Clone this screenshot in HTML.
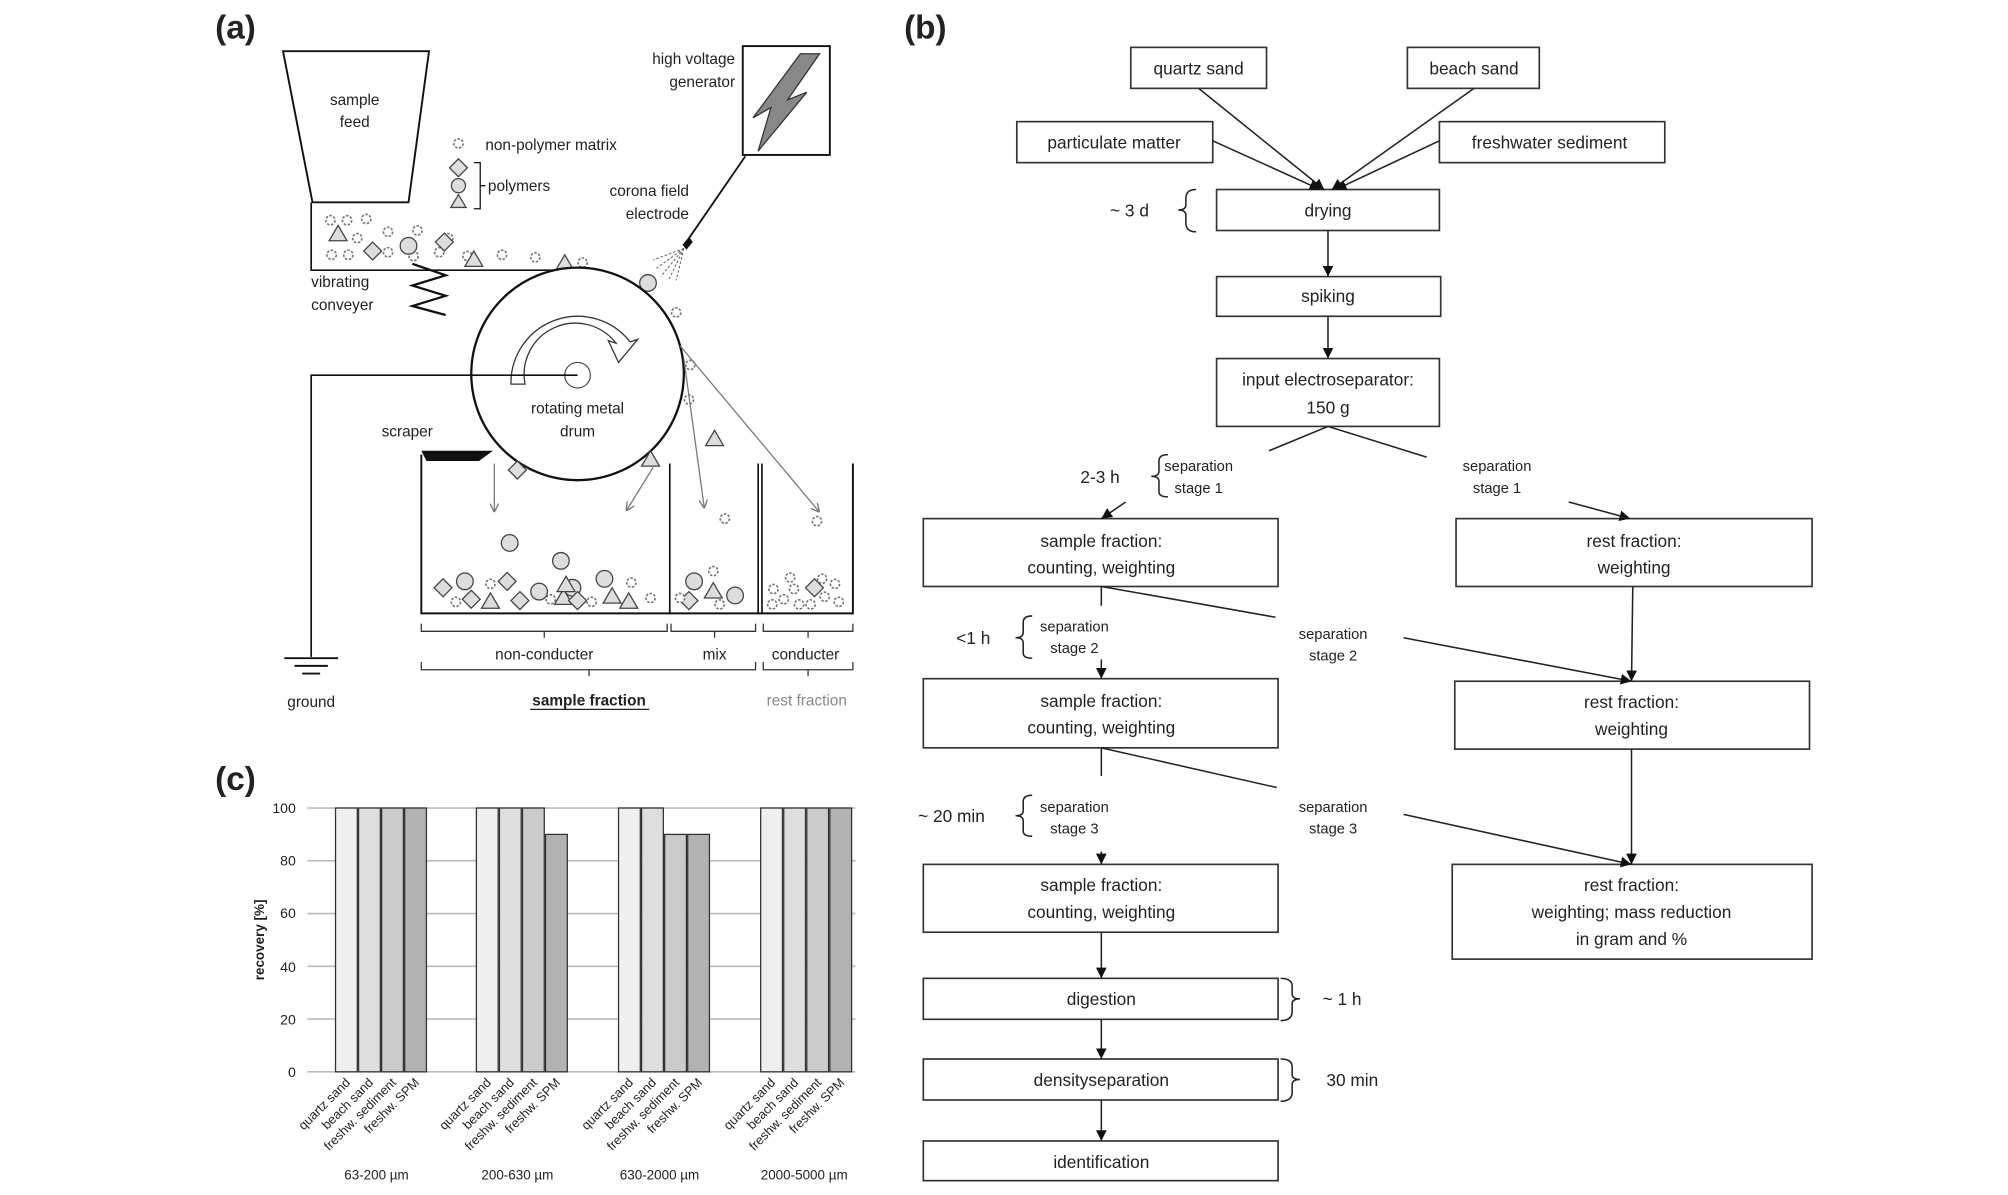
<!DOCTYPE html>
<html><head><meta charset="utf-8"><style>
html,body{margin:0;padding:0;background:#fff}
svg{display:block}
text{font-family:"Liberation Sans",sans-serif;fill:#222}
</style></head><body>
<svg width="2008" height="1195" viewBox="0 0 1568 933.2" preserveAspectRatio="none" xmlns="http://www.w3.org/2000/svg">
<defs>
<marker id="ar" viewBox="0 0 10 10" refX="10" refY="5" markerWidth="7" markerHeight="7" orient="auto-start-reverse"><path d="M0,0 L10,5 L0,10 z" fill="#111"/></marker>
<marker id="ag" viewBox="0 0 10 10" refX="10" refY="5" markerWidth="7" markerHeight="7" orient="auto"><path d="M0,0 L10,5 L0,10" fill="none" stroke="#777" stroke-width="1.5"/></marker>
<g id="st"><circle r="3.6" fill="#fff" stroke="#777" stroke-width="1.3" stroke-dasharray="2 1.2"/></g>
<g id="tr"><path d="M0,-7 L7,5 L-7,5 z" fill="#ddd" stroke="#444" stroke-width="1"/></g>
<g id="dm"><path d="M0,-7 L7,0 L0,7 L-7,0 z" fill="#ddd" stroke="#444" stroke-width="1"/></g>
<g id="ci"><circle r="6.5" fill="#ddd" stroke="#444" stroke-width="1"/></g>
</defs>

<!-- ========== (a) ========== -->
<text x="168" y="30" font-size="26" font-weight="bold" fill="#111">(a)</text>
<path d="M221,40 L335,40 L319,158 L244,158 z" fill="#fff" stroke="#111" stroke-width="1.5"/>
<text x="277" y="82" font-size="12" text-anchor="middle">sample</text>
<text x="277" y="99" font-size="12" text-anchor="middle">feed</text>
<path d="M243,158 L243,211 L455,211" fill="none" stroke="#111" stroke-width="1.3"/>
<path d="M322,215 L348,224 L322,232 L348,240 L322,248 L348,255" fill="none" stroke="#111" stroke-width="1.8" transform="translate(0,-9)"/>
<text x="243" y="224" font-size="12">vibrating</text>
<text x="243" y="242" font-size="12">conveyer</text>
<use href="#st" x="258" y="172"/><use href="#st" x="271" y="172"/><use href="#st" x="286" y="171"/>
<use href="#st" x="279" y="186"/><use href="#st" x="303" y="181"/><use href="#st" x="326" y="180"/><use href="#st" x="350" y="186"/>
<use href="#st" x="259" y="199"/><use href="#st" x="272" y="199"/><use href="#st" x="303" y="197"/><use href="#st" x="323" y="200"/><use href="#st" x="343" y="197"/><use href="#st" x="365" y="200"/><use href="#st" x="392" y="199"/><use href="#st" x="418" y="201"/><use href="#st" x="455" y="205"/>
<use href="#tr" x="264" y="183"/><use href="#dm" x="291" y="196"/><use href="#ci" x="319" y="192"/><use href="#dm" x="347" y="189"/><use href="#tr" x="370" y="203"/><use href="#tr" x="441" y="206"/>
<use href="#ci" x="506" y="221"/>
<use href="#st" x="358" y="112"/>
<text x="379" y="117" font-size="12">non-polymer matrix</text>
<use href="#dm" x="358" y="131"/>
<circle cx="358" cy="145" r="5.5" fill="#ddd" stroke="#444"/>
<path d="M358,152 L364,162 L352,162 z" fill="#ddd" stroke="#444"/>
<path d="M370,127 L375,127 L375,163 L370,163 M375,145 L379,145" fill="none" stroke="#111"/>
<text x="381" y="149" font-size="12">polymers</text>
<rect x="580" y="36" width="68" height="85" fill="#fff" stroke="#111" stroke-width="1.5"/>
<path d="M625,42 L640,42 L615,78 L630,72 L592,118 L602,84 L588,92 z" fill="#888" stroke="#333" stroke-width="1"/>
<text x="574" y="50" font-size="12" text-anchor="end">high voltage</text>
<text x="574" y="68" font-size="12" text-anchor="end">generator</text>
<text x="538" y="153" font-size="12" text-anchor="end">corona field</text>
<text x="538" y="171" font-size="12" text-anchor="end">electrode</text>
<line x1="582" y1="122" x2="538" y2="186" stroke="#111" stroke-width="1.4"/>
<path d="M538,185 L541,189 L536,195 L533,191 z" fill="#111"/>
<g stroke="#666" stroke-width="0.8" stroke-dasharray="2 1.5">
<line x1="534" y1="194" x2="510" y2="203"/><line x1="534" y1="194" x2="512" y2="210"/><line x1="534" y1="194" x2="516" y2="216"/><line x1="534" y1="194" x2="522" y2="219"/><line x1="534" y1="194" x2="528" y2="219"/>
</g>
<circle cx="451" cy="292" r="83" fill="#fff" stroke="#111" stroke-width="1.8"/>
<path d="M399,300 A52,52 0 0 1 492,267 L498,265 L483,283 L475,266 L481,268 A40,40 0 0 0 410,300 z" fill="#fff" stroke="#333" stroke-width="1"/>
<circle cx="451" cy="293" r="10" fill="none" stroke="#444" stroke-width="0.9"/>
<path d="M451,293 L243,293 L243,513" fill="none" stroke="#111" stroke-width="1.3"/>
<path d="M222,514 L264,514 M230,520 L256,520 M236,526 L250,526" stroke="#111" stroke-width="1.5"/>
<text x="243" y="552" font-size="12" text-anchor="middle">ground</text>
<text x="451" y="323" font-size="12" text-anchor="middle">rotating metal</text>
<text x="451" y="341" font-size="12" text-anchor="middle">drum</text>
<text x="318" y="341" font-size="12" text-anchor="middle">scraper</text>
<use href="#st" x="528" y="244"/><use href="#st" x="539" y="285"/><use href="#st" x="538" y="312"/>
<use href="#tr" x="558" y="343"/><use href="#st" x="566" y="405"/><use href="#st" x="638" y="407"/>
<use href="#dm" x="404" y="367"/><use href="#tr" x="508" y="359"/>
<g stroke="#777" stroke-width="1" fill="none">
<line x1="386" y1="362" x2="386" y2="400" marker-end="url(#ag)"/>
<line x1="510" y1="365" x2="489" y2="399" marker-end="url(#ag)"/>
<line x1="534" y1="280" x2="550" y2="397" marker-end="url(#ag)"/>
<line x1="531" y1="270" x2="640" y2="400" marker-end="url(#ag)"/>
</g>
<path d="M329,355 L329,479 L666,479 L666,362" fill="none" stroke="#111" stroke-width="1.5"/>
<path d="M329,352 L385,352 L374,360 L333,360 z" fill="#111"/>
<line x1="523" y1="362" x2="523" y2="479" stroke="#111" stroke-width="1.3"/>
<line x1="592" y1="362" x2="592" y2="479" stroke="#111" stroke-width="1.3"/>
<line x1="595" y1="362" x2="595" y2="479" stroke="#111" stroke-width="1.3"/>
<use href="#ci" x="398" y="424"/><use href="#ci" x="438" y="438"/>
<use href="#dm" x="346" y="459"/><use href="#ci" x="363" y="454"/><use href="#dm" x="368" y="468"/><use href="#tr" x="383" y="470"/><use href="#dm" x="396" y="454"/><use href="#dm" x="406" y="469"/><use href="#ci" x="421" y="462"/><use href="#tr" x="440" y="467"/><use href="#ci" x="447" y="459"/><use href="#dm" x="451" y="469"/><use href="#tr" x="478" y="466"/><use href="#ci" x="472" y="452"/><use href="#tr" x="491" y="470"/><use href="#tr" x="442" y="457"/>
<use href="#st" x="356" y="470"/><use href="#st" x="383" y="456"/><use href="#st" x="430" y="468"/><use href="#st" x="462" y="470"/><use href="#st" x="493" y="455"/><use href="#st" x="508" y="467"/>
<use href="#ci" x="542" y="454"/><use href="#tr" x="557" y="462"/><use href="#ci" x="574" y="465"/><use href="#dm" x="538" y="469"/><use href="#st" x="557" y="446"/><use href="#st" x="531" y="467"/><use href="#st" x="562" y="472"/>
<use href="#dm" x="636" y="459"/>
<use href="#st" x="604" y="460"/><use href="#st" x="612" y="468"/><use href="#st" x="620" y="460"/><use href="#st" x="603" y="472"/><use href="#st" x="624" y="472"/><use href="#st" x="644" y="466"/><use href="#st" x="652" y="456"/><use href="#st" x="655" y="470"/><use href="#st" x="617" y="451"/><use href="#st" x="633" y="472"/><use href="#st" x="642" y="452"/>
<g fill="none" stroke="#333" stroke-width="1">
<path d="M329,487 L329,493 L521,493 L521,487 M425,493 L425,498"/>
<path d="M524,487 L524,493 L590,493 L590,487 M558,493 L558,498"/>
<path d="M596,487 L596,493 L666,493 L666,487 M631,493 L631,498"/>
<path d="M329,517 L329,523 L590,523 L590,517 M460,523 L460,528"/>
<path d="M596,517 L596,523 L666,523 L666,517 M631,523 L631,528"/>
</g>
<text x="425" y="515" font-size="12" text-anchor="middle">non-conducter</text>
<text x="558" y="515" font-size="12" text-anchor="middle">mix</text>
<text x="629" y="515" font-size="12" text-anchor="middle">conducter</text>
<text x="460" y="551" font-size="12" text-anchor="middle" font-weight="bold">sample fraction</text>
<line x1="414" y1="554" x2="507" y2="554" stroke="#222" stroke-width="1"/>
<text x="630" y="551" font-size="12" text-anchor="middle" style="fill:#888">rest fraction</text>

<!-- ========== (c) ========== -->
<text x="168" y="617" font-size="26" font-weight="bold" fill="#111">(c)</text>
<g stroke="#bbb" stroke-width="1.3">
<line x1="240" y1="631" x2="668" y2="631"/><line x1="240" y1="672.2" x2="668" y2="672.2"/><line x1="240" y1="713.4" x2="668" y2="713.4"/><line x1="240" y1="754.6" x2="668" y2="754.6"/><line x1="240" y1="795.8" x2="668" y2="795.8"/><line x1="240" y1="837" x2="668" y2="837"/>
</g>
<g font-size="11" text-anchor="end">
<text x="231" y="635">100</text><text x="231" y="676">80</text><text x="231" y="717">60</text><text x="231" y="759">40</text><text x="231" y="800">20</text><text x="231" y="841">0</text>
</g>
<text transform="translate(206,734) rotate(-90)" font-size="10.5" font-weight="bold" text-anchor="middle">recovery [%]</text>
<g stroke="#333" stroke-width="1">
<rect x="262" y="631" width="17" height="206" fill="#efefef"/><rect x="280" y="631" width="17" height="206" fill="#dedede"/><rect x="298" y="631" width="17" height="206" fill="#cbcbcb"/><rect x="316" y="631" width="17" height="206" fill="#b2b2b2"/>
<rect x="372" y="631" width="17" height="206" fill="#efefef"/><rect x="390" y="631" width="17" height="206" fill="#dedede"/><rect x="408" y="631" width="17" height="206" fill="#cbcbcb"/><rect x="426" y="651.6" width="17" height="185.4" fill="#b2b2b2"/>
<rect x="483" y="631" width="17" height="206" fill="#efefef"/><rect x="501" y="631" width="17" height="206" fill="#dedede"/><rect x="519" y="651.6" width="17" height="185.4" fill="#cbcbcb"/><rect x="537" y="651.6" width="17" height="185.4" fill="#b2b2b2"/>
<rect x="594" y="631" width="17" height="206" fill="#efefef"/><rect x="612" y="631" width="17" height="206" fill="#dedede"/><rect x="630" y="631" width="17" height="206" fill="#cbcbcb"/><rect x="648" y="631" width="17" height="206" fill="#b2b2b2"/>
</g>
<g font-size="10" text-anchor="end">
<text transform="translate(274,846) rotate(-45)">quartz sand</text>
<text transform="translate(292,846) rotate(-45)">beach sand</text>
<text transform="translate(310,846) rotate(-45)">freshw. sediment</text>
<text transform="translate(328,846) rotate(-45)">freshw. SPM</text>
<text transform="translate(384,846) rotate(-45)">quartz sand</text>
<text transform="translate(402,846) rotate(-45)">beach sand</text>
<text transform="translate(420,846) rotate(-45)">freshw. sediment</text>
<text transform="translate(438,846) rotate(-45)">freshw. SPM</text>
<text transform="translate(495,846) rotate(-45)">quartz sand</text>
<text transform="translate(513,846) rotate(-45)">beach sand</text>
<text transform="translate(531,846) rotate(-45)">freshw. sediment</text>
<text transform="translate(549,846) rotate(-45)">freshw. SPM</text>
<text transform="translate(606,846) rotate(-45)">quartz sand</text>
<text transform="translate(624,846) rotate(-45)">beach sand</text>
<text transform="translate(642,846) rotate(-45)">freshw. sediment</text>
<text transform="translate(660,846) rotate(-45)">freshw. SPM</text>
</g>
<g font-size="10.5" text-anchor="middle">
<text x="294" y="921">63-200 µm</text><text x="404" y="921">200-630 µm</text><text x="515" y="921">630-2000 µm</text><text x="628" y="921">2000-5000 µm</text>
</g>

<!-- ========== (b) ========== -->
<text x="706" y="30" font-size="26" font-weight="bold" fill="#111">(b)</text>
<g fill="#fff" stroke="#333" stroke-width="1.3">
<rect x="883" y="37" width="106" height="32"/>
<rect x="1099" y="37" width="103" height="32"/>
<rect x="794" y="95" width="153" height="32"/>
<rect x="1124" y="95" width="176" height="32"/>
<rect x="950" y="148" width="174" height="32"/>
<rect x="950" y="216" width="175" height="31"/>
<rect x="950" y="280" width="174" height="53"/>
<rect x="721" y="405" width="277" height="53"/>
<rect x="1137" y="405" width="278" height="53"/>
<rect x="721" y="530" width="277" height="54"/>
<rect x="1136" y="532" width="277" height="53"/>
<rect x="721" y="675" width="277" height="53"/>
<rect x="1134" y="675" width="281" height="74"/>
<rect x="721" y="764" width="277" height="32"/>
<rect x="721" y="827" width="277" height="32"/>
<rect x="721" y="891" width="277" height="31"/>
</g>
<g font-size="13.5" text-anchor="middle">
<text x="936" y="58">quartz sand</text>
<text x="1151" y="58">beach sand</text>
<text x="870" y="116">particulate matter</text>
<text x="1210" y="116">freshwater sediment</text>
<text x="1037" y="169">drying</text>
<text x="1037" y="236">spiking</text>
<text x="1037" y="301">input electroseparator:</text>
<text x="1037" y="323">150 g</text>
<text x="860" y="427">sample fraction:</text>
<text x="860" y="448">counting, weighting</text>
<text x="1276" y="427">rest fraction:</text>
<text x="1276" y="448">weighting</text>
<text x="860" y="552">sample fraction:</text>
<text x="860" y="573">counting, weighting</text>
<text x="1274" y="553">rest fraction:</text>
<text x="1274" y="574">weighting</text>
<text x="860" y="696">sample fraction:</text>
<text x="860" y="717">counting, weighting</text>
<text x="1274" y="696">rest fraction:</text>
<text x="1274" y="717">weighting; mass reduction</text>
<text x="1274" y="738">in gram and %</text>
<text x="860" y="785">digestion</text>
<text x="860" y="848">densityseparation</text>
<text x="860" y="912">identification</text>
</g>
<g stroke="#222" stroke-width="1.2" fill="none">
<line x1="936" y1="69" x2="1034" y2="148" marker-end="url(#ar)"/>
<line x1="1151" y1="69" x2="1040" y2="148" marker-end="url(#ar)"/>
<line x1="947" y1="110" x2="1031" y2="148" marker-end="url(#ar)"/>
<line x1="1124" y1="110" x2="1043" y2="148" marker-end="url(#ar)"/>
<line x1="1037" y1="180" x2="1037" y2="216" marker-end="url(#ar)"/>
<line x1="1037" y1="247" x2="1037" y2="280" marker-end="url(#ar)"/>
<path d="M991,352 L1037,333 L1114,357"/>
<line x1="879" y1="392" x2="860" y2="405" marker-end="url(#ar)"/>
<line x1="1225" y1="392" x2="1273" y2="405" marker-end="url(#ar)"/>
<path d="M860,458 L860,473 M860,458 L996,482"/>
<line x1="860" y1="515" x2="860" y2="530" marker-end="url(#ar)"/>
<line x1="1096" y1="498" x2="1274" y2="532" marker-end="url(#ar)"/>
<line x1="1275" y1="458" x2="1274" y2="532" marker-end="url(#ar)"/>
<path d="M860,584 L860,606 M860,584 L997,615"/>
<line x1="860" y1="665" x2="860" y2="675" marker-end="url(#ar)"/>
<line x1="1096" y1="636" x2="1274" y2="675" marker-end="url(#ar)"/>
<line x1="1274" y1="585" x2="1274" y2="675" marker-end="url(#ar)"/>
<line x1="860" y1="728" x2="860" y2="764" marker-end="url(#ar)"/>
<line x1="860" y1="796" x2="860" y2="827" marker-end="url(#ar)"/>
<line x1="860" y1="859" x2="860" y2="891" marker-end="url(#ar)"/>
<path d="M934,148 Q926,148 926,155 L926,160 Q926,164 920,164 Q926,164 926,168 L926,174 Q926,181 934,181"/>
<path d="M912,355 Q905,355 905,360 L905,368 Q905,372 899,372 Q905,372 905,376 L905,384 Q905,388 912,388"/>
<path d="M806,481 Q799,481 799,486 L799,494 Q799,498 793,498 Q799,498 799,502 L799,510 Q799,514 806,514"/>
<path d="M806,621 Q799,621 799,626 L799,633 Q799,637 793,637 Q799,637 799,641 L799,649 Q799,653 806,653"/>
<path d="M1000,764 Q1009,764 1009,770 L1009,776 Q1009,780 1015,780 Q1009,780 1009,784 L1009,790 Q1009,797 1000,797"/>
<path d="M1000,827 Q1009,827 1009,833 L1009,839 Q1009,843 1015,843 Q1009,843 1009,847 L1009,853 Q1009,860 1000,860"/>
</g>
<g font-size="13.5" text-anchor="middle">
<text x="882" y="169">~ 3 d</text>
<text x="859" y="377">2-3 h</text>
<text x="760" y="503">&lt;1 h</text>
<text x="743" y="642">~ 20 min</text>
<text x="1048" y="785">~ 1 h</text>
<text x="1056" y="848">30 min</text>
</g>
<g font-size="11.5" text-anchor="middle">
<text x="936" y="368">separation</text><text x="936" y="385">stage 1</text>
<text x="1169" y="368">separation</text><text x="1169" y="385">stage 1</text>
<text x="839" y="493">separation</text><text x="839" y="510">stage 2</text>
<text x="1041" y="499">separation</text><text x="1041" y="516">stage 2</text>
<text x="839" y="634">separation</text><text x="839" y="651">stage 3</text>
<text x="1041" y="634">separation</text><text x="1041" y="651">stage 3</text>
</g>
</svg>
</body></html>
